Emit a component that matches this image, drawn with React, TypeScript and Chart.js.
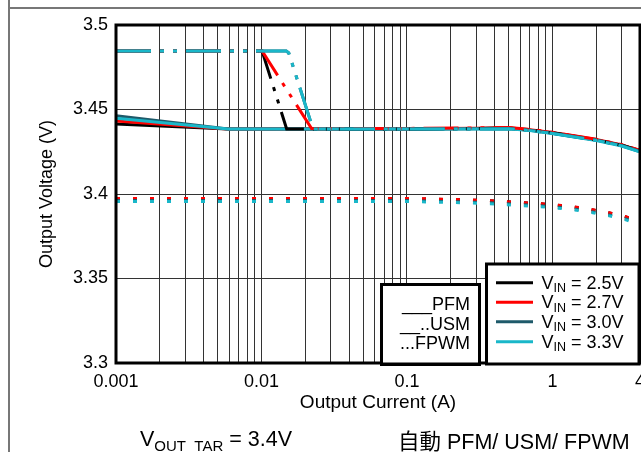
import React, { useEffect, useRef } from "react";
import { Chart, registerables } from "chart.js";

Chart.register(...registerables);

// ---------- data ----------
const xGridValues = [
  0.001, 0.002, 0.003, 0.004, 0.005, 0.006, 0.007, 0.008, 0.009,
  0.01, 0.02, 0.03, 0.04, 0.05, 0.06, 0.07, 0.08, 0.09,
  0.1, 0.2, 0.3, 0.4, 0.5, 0.6, 0.7, 0.8, 0.9,
  1, 2, 3, 4,
];
const xLabelValues = [0.001, 0.01, 0.1, 1, 4];
const xLabelTexts = ["0.001", "0.01", "0.1", "1", "4"];
const yTickValues = [3.3, 3.35, 3.4, 3.45, 3.5];
const yTickTexts = ["3.3", "3.35", "3.4", "3.45", "3.5"];

const vinNames = ["2.5V", "2.7V", "3.0V", "3.3V"];
const modeNames = ["___PFM", "__..USM", "...FPWM"];

// PFM (solid)
const pfm25 = [[0.001, 3.4414], [0.0059, 3.4385], [0.1, 3.4385], [0.3, 3.4387], [0.5, 3.439], [0.7, 3.4378], [1, 3.4362], [2, 3.432], [3, 3.4288], [4, 3.4255]];
const pfm27 = [[0.001, 3.4432], [0.0059, 3.4385], [0.1, 3.4386], [0.3, 3.4389], [0.5, 3.4392], [0.7, 3.438], [1, 3.4364], [2, 3.4322], [3, 3.429], [4, 3.4257]];
const pfm30 = [[0.001, 3.4463], [0.0059, 3.4385], [0.1, 3.4385], [0.3, 3.4386], [0.5, 3.4388], [0.7, 3.4377], [1, 3.436], [2, 3.4319], [3, 3.4287], [4, 3.4252]];
const pfm33 = [[0.001, 3.4448], [0.0059, 3.4385], [0.1, 3.4384], [0.3, 3.4385], [0.5, 3.4386], [0.7, 3.4375], [1, 3.4358], [2, 3.4317], [3, 3.4284], [4, 3.4249]];

// USM (dash-dot)
const usm25 = [[0.001, 3.4846], [0.0101, 3.4846], [0.0149, 3.4385], [0.1, 3.4385], [0.3, 3.4387], [0.5, 3.439], [0.7, 3.4378], [1, 3.4362], [2, 3.432], [3, 3.4288], [4, 3.4255]];
const usm27 = [[0.001, 3.4846], [0.0101, 3.4846], [0.0221, 3.4387], [0.1, 3.4388], [0.3, 3.4391], [0.5, 3.4394], [0.7, 3.4382], [1, 3.4366], [2, 3.4324], [3, 3.4292], [4, 3.4259]];
const usm30 = [[0.001, 3.4846], [0.0148, 3.4846], [0.0154, 3.4835], [0.0226, 3.4385], [0.1, 3.4385], [0.3, 3.4386], [0.5, 3.4388], [0.7, 3.4377], [1, 3.436], [2, 3.4319], [3, 3.4287], [4, 3.4252]];
const usm33 = [[0.001, 3.4846], [0.0148, 3.4846], [0.0154, 3.4835], [0.0226, 3.4385], [0.1, 3.4384], [0.3, 3.4385], [0.5, 3.4386], [0.7, 3.4375], [1, 3.4358], [2, 3.4317], [3, 3.4284], [4, 3.4249]];

// FPWM (dotted)
const fpwm25 = [[0.001, 3.3973], [0.1, 3.3973], [0.2, 3.3967], [0.35, 3.3961], [0.46, 3.3955], [0.6, 3.3949], [0.8, 3.3943], [1.04, 3.3935], [1.4, 3.3923], [1.8, 3.3909], [2.4, 3.389], [3.2, 3.3864], [4, 3.3838]];
const fpwm27 = [[0.001, 3.3974], [0.1, 3.3974], [0.2, 3.3968], [0.35, 3.3962], [0.46, 3.3956], [0.6, 3.395], [0.8, 3.3944], [1.04, 3.3936], [1.4, 3.3924], [1.8, 3.391], [2.4, 3.3891], [3.2, 3.3865], [4, 3.3839]];
const fpwm30 = [[0.001, 3.3961], [0.1, 3.3961], [0.2, 3.3955], [0.35, 3.3949], [0.46, 3.3943], [0.6, 3.3937], [0.8, 3.3931], [1.04, 3.3923], [1.4, 3.3911], [1.8, 3.3897], [2.4, 3.3878], [3.2, 3.3852], [4, 3.3826]];
const fpwm33 = [[0.001, 3.3956], [0.1, 3.3956], [0.2, 3.395], [0.35, 3.3944], [0.46, 3.3938], [0.6, 3.3932], [0.8, 3.3926], [1.04, 3.3918], [1.4, 3.3906], [1.8, 3.3892], [2.4, 3.3873], [3.2, 3.3847], [4, 3.3821]];

// ---------- styles ----------
const FONT = "'Liberation Sans', Arial, sans-serif";
const vinColors = ["#000000", "#ff0000", "#1e5a6a", "#1ab7c9"];
const USM_DASH = [35, 9, 4, 9, 4, 9];
const FPWM_DASH = [4, 13];

const toPts = (arr: number[][]) => arr.map(([x, y]) => ({ x, y }));

function makeDatasets() {
  const groups = [
    { series: [pfm25, pfm27, pfm30, pfm33], dash: [] as number[], base: 20 },
    { series: [usm25, usm27, usm30, usm33], dash: USM_DASH, base: 10 },
    { series: [fpwm25, fpwm27, fpwm30, fpwm33], dash: FPWM_DASH, base: 0 },
  ];
  const ds: any[] = [];
  groups.forEach((g, gi) => {
    g.series.forEach((s, i) => {
      ds.push({
        label: modeNames[gi] + " " + vinNames[i],
        data: toPts(s),
        borderColor: vinColors[i],
        backgroundColor: vinColors[i],
        borderWidth: 3,
        borderDash: g.dash,
        borderCapStyle: "butt",
        pointRadius: 0,
        tension: 0,
        fill: false,
        order: g.base + (3 - i),
      });
    });
  });
  return ds;
}

const overlayPlugin = {
  id: "overlay",
  afterDraw(chart: any) {
    const { ctx, chartArea: a } = chart;
    ctx.save();
    // plot frame
    ctx.lineWidth = 3;
    ctx.strokeStyle = "#000";
    ctx.setLineDash([]);
    ctx.strokeRect(a.left, a.top, a.right - a.left, a.bottom - a.top);

    // mode legend box
    ctx.fillStyle = "#fff";
    ctx.fillRect(381.5, 284.5, 98, 78);
    ctx.strokeRect(381.5, 284.5, 98, 80);
    // vin legend box
    ctx.fillRect(486.5, 264, 152, 99);
    ctx.strokeRect(486.5, 264, 152.5, 100);

    ctx.fillStyle = "#000";
    ctx.font = `18px ${FONT}`;
    ctx.textAlign = "right";
    ctx.textBaseline = "alphabetic";
    const modeY = [310, 329.5, 349];
    modeNames.forEach((m, i) => ctx.fillText(m, 470, modeY[i]));

    const vinY = [282.7, 302.3, 321.7, 341.7];
    vinNames.forEach((v, i) => {
      const y = vinY[i];
      ctx.strokeStyle = vinColors[i];
      ctx.lineWidth = 3;
      ctx.beginPath();
      ctx.moveTo(496, y);
      ctx.lineTo(533, y);
      ctx.stroke();
      ctx.fillStyle = "#000";
      ctx.textAlign = "left";
      ctx.font = `18px ${FONT}`;
      let x = 541.5;
      const base = y + 6;
      ctx.fillText("V", x, base);
      x += ctx.measureText("V").width;
      ctx.font = `12.5px ${FONT}`;
      ctx.fillText("IN", x, base + 3.5);
      x += ctx.measureText("IN").width;
      ctx.font = `18px ${FONT}`;
      ctx.fillText(" = " + v, x, base);
    });
    ctx.restore();
  },
};

function ChartCanvas() {
  const ref = useRef<HTMLCanvasElement | null>(null);
  useEffect(() => {
    const canvas = ref.current;
    if (!canvas) return;
    const near = (a: number, b: number) => Math.abs(a - b) < 1e-9 * Math.max(1, Math.abs(b)) + 1e-12;
    const chart = new Chart(canvas, {
      type: "line",
      data: { datasets: makeDatasets() },
      options: {
        animation: false,
        responsive: false,
        maintainAspectRatio: false,
        devicePixelRatio: 1,
        layout: { padding: { left: 0, top: 25, right: 1, bottom: 0 } },
        plugins: { legend: { display: false }, tooltip: { enabled: false } },
        scales: {
          x: {
            type: "logarithmic",
            min: 0.001,
            max: 4,
            afterBuildTicks: (s: any) => {
              s.ticks = xGridValues.map((v) => ({ value: v }));
            },
            afterFit: (s: any) => {
              s.height = 89;
              s.paddingLeft = 0;
              s.paddingRight = 0;
            },
            ticks: {
              autoSkip: false,
              maxRotation: 0,
              minRotation: 0,
              padding: 8,
              color: "#000",
              font: { family: FONT, size: 18 },
              callback: (v: any) => {
                const idx = xLabelValues.findIndex((lv) => near(Number(v), lv));
                return idx >= 0 ? xLabelTexts[idx] : "";
              },
            },
            grid: { color: "#333333", lineWidth: 1, drawTicks: false },
            border: { display: false },
            title: {
              display: true,
              text: "Output Current (A)",
              color: "#000",
              font: { family: FONT, size: 19 },
              padding: { top: 0, bottom: 38 },
            },
          },
          y: {
            type: "linear",
            min: 3.3,
            max: 3.5,
            afterBuildTicks: (s: any) => {
              s.ticks = yTickValues.map((v) => ({ value: v }));
            },
            afterFit: (s: any) => {
              s.width = 116;
              s.paddingTop = 0;
              s.paddingBottom = 0;
            },
            ticks: {
              padding: 8,
              color: "#000",
              font: { family: FONT, size: 18 },
              callback: (v: any) => {
                const idx = yTickValues.findIndex((tv) => Math.abs(Number(v) - tv) < 1e-6);
                return idx >= 0 ? yTickTexts[idx] : "";
              },
            },
            grid: { color: "#333333", lineWidth: 1, drawTicks: false },
            border: { display: false },
            title: {
              display: true,
              text: "Output Voltage (V)",
              color: "#000",
              font: { family: FONT, size: 18 },
              padding: { top: 36, bottom: 0 },
            },
          },
        },
      } as any,
      plugins: [overlayPlugin],
    });
    return () => chart.destroy();
  }, []);
  return (
    <canvas
      ref={ref}
      width={641}
      height={452}
      style={{ position: "absolute", left: 0, top: 0, width: 641, height: 452 }}
    />
  );
}

export default function App() {
  const textStyle: React.CSSProperties = {
    position: "absolute",
    top: 429,
    fontFamily: FONT,
    fontSize: 21.5,
    lineHeight: "21px",
    color: "#000",
    whiteSpace: "nowrap",
  };
  return (
    <div
      style={{
        position: "fixed",
        left: 0,
        top: 0,
        width: 641,
        height: 452,
        background: "#fff",
        overflow: "hidden",
      }}
    >
      <ChartCanvas />
      <div style={{ position: "absolute", left: 8, top: 0, width: 1.5, height: 452, background: "#777" }} />
      <div style={{ position: "absolute", left: 8, top: 7, width: 633, height: 1.5, background: "#777" }} />
      <div style={{ ...textStyle, left: 140 }}>
        V<span style={{ fontSize: 15, verticalAlign: -5 }}>OUT_TAR</span> = 3.4V
      </div>
      <div style={{ ...textStyle, left: 398 }}>
        <span style={{ fontFamily: "'Noto Sans CJK TC'" }}>自動</span> PFM/ USM/ FPWM
      </div>
    </div>
  );
}
